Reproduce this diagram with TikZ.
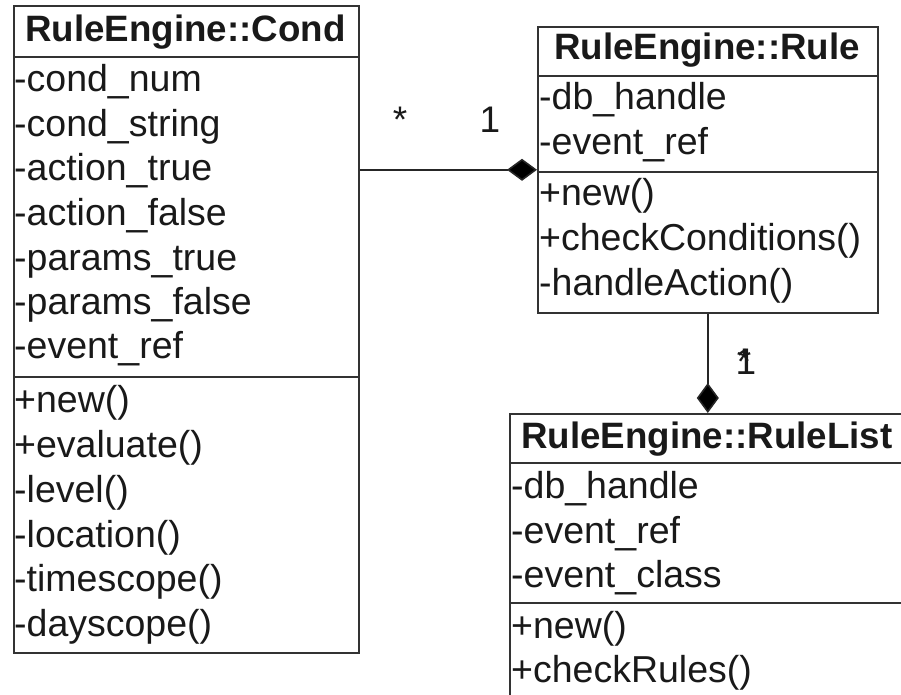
\documentclass[tikz,border=0pt]{standalone}
\usepackage{fontspec}
\setmainfont{Liberation Sans}
\usetikzlibrary{arrows.meta}
\begin{document}
\begin{tikzpicture}[x=1pt,y=-1pt,
  classbox/.style={draw=black!80, line width=1.6pt, fill=white, inner sep=0pt, anchor=north west},
  sep/.style={draw=black!80, line width=1.6pt},
  member/.style={inner sep=0pt, anchor=base west, font=\fontsize{37.5}{44}\selectfont, text=black!90},
  ctitle/.style={inner sep=0pt, anchor=base, font=\fontsize{36.7}{44}\selectfont\bfseries, text=black!90},
  mult/.style={inner sep=0pt, anchor=base, font=\fontsize{37}{44}\selectfont, text=black!90},
  comp/.style={draw=black!85, line width=1.6pt, -{Diamond[length=30pt,width=22pt,fill=black,line join=miter]}}
]
\clip (0,0) rectangle (901,695);
\fill[white] (0,0) rectangle (901,695);

% ---- RuleEngine::Cond ----
\node[classbox, minimum width=345pt, minimum height=647pt] (cond) at (13,5) {};
\draw[sep] (13,57) -- (358,57);
\draw[sep] (13,377) -- (358,377);
\node[ctitle] (condt) at (185.5,42) {RuleEngine::Cond};
\node[member] (ca1) at (14,92) {-cond\_num};
\node[member] (ca2) at (14,136.5) {-cond\_string};
\node[member] (ca3) at (14,181) {-action\_true};
\node[member] (ca4) at (14,225.5) {-action\_false};
\node[member] (ca5) at (14,270) {-params\_true};
\node[member] (ca6) at (14,314) {-params\_false};
\node[member] (ca7) at (14,358) {-event\_ref};
\node[member] (cm1) at (14,412) {+new()};
\node[member] (cm2) at (14,457) {+evaluate()};
\node[member] (cm3) at (14,502) {-level()};
\node[member] (cm4) at (14,547) {-location()};
\node[member] (cm5) at (14,591) {-timescope()};
\node[member] (cm6) at (14,636) {-dayscope()};

% ---- RuleEngine::Rule ----
\node[classbox, minimum width=340pt, minimum height=286pt] (rule) at (537,26) {};
\draw[sep] (537,76) -- (877,76);
\draw[sep] (537,172) -- (877,172);
\node[ctitle] (rulet) at (707,60) {RuleEngine::Rule};
\node[member] (ra1) at (539,110) {-db\_handle};
\node[member] (ra2) at (539,155) {-event\_ref};
\node[member] (rm1) at (539,205) {+new()};
\node[member] (rm2) at (539,250) {+checkConditions()};
\node[member] (rm3) at (539,295) {-handleAction()};

% ---- RuleEngine::RuleList ----
\node[classbox, minimum width=396pt, minimum height=310pt] (rlist) at (509,413) {};
\draw[sep] (509,463) -- (905,463);
\draw[sep] (509,603) -- (905,603);
\node[ctitle] (rlistt) at (707,448) {RuleEngine::RuleList};
\node[member] (la1) at (511,498) {-db\_handle};
\node[member] (la2) at (511,543) {-event\_ref};
\node[member] (la3) at (511,587) {-event\_class};
\node[member] (lm1) at (511,638) {+new()};
\node[member] (lm2) at (511,682) {+checkRules()};

% ---- connectors ----
\draw[comp] (cond.east |- rule.west) -- (rule.west);
\draw[comp] (rule.south) -- (rlist.north);

% ---- multiplicities ----
\node[mult] (m1) at (400,133) {*};
\node[mult] (m2) at (490,133) {1};
\node[mult] (m3) at (744,374) {*};
\node[mult] (m4) at (746,374) {1};
\end{tikzpicture}
\end{document}
